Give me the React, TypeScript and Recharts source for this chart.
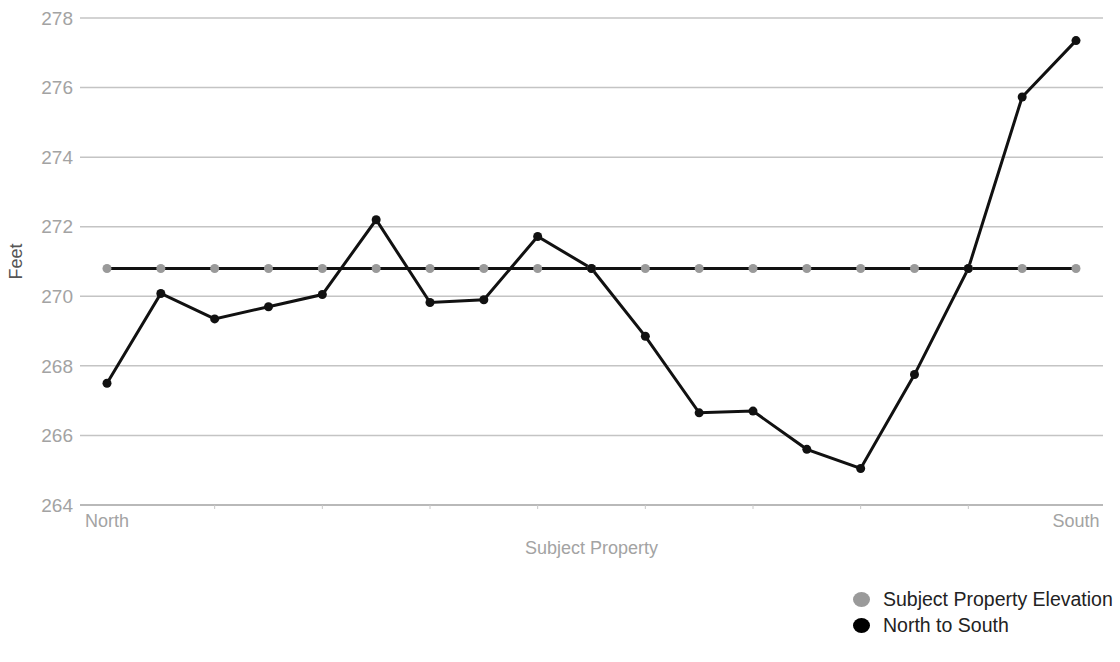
import { CartesianGrid, Line, LineChart, XAxis, YAxis, Label } from 'recharts';

// 19 survey points from north to south
const positions = [
  'North', '', '', '', '', '', '', '', '', '', '', '', '', '', '', '', '', '', 'South',
];
const northToSouth = [
  267.5, 270.08, 269.35, 269.7, 270.05, 272.2, 269.82, 269.9, 271.72, 270.8,
  268.85, 266.65, 266.7, 265.6, 265.05, 267.75, 270.8, 275.73, 277.35,
];
const subjectElevation = [
  270.8, 270.8, 270.8, 270.8, 270.8, 270.8, 270.8, 270.8, 270.8, 270.8,
  270.8, 270.8, 270.8, 270.8, 270.8, 270.8, 270.8, 270.8, 270.8,
];
const yTicks = [264, 266, 268, 270, 272, 274, 276, 278];

const data = positions.map((p, i) => ({
  pos: `${i}`,
  label: p,
  elevation: subjectElevation[i],
  ns: northToSouth[i],
}));

const FONT = '"Liberation Sans", Arial, sans-serif';
const TICK_GRAY = '#a3a3a3';

function XTick(props: any) {
  const { x, y, index } = props;
  const label = positions[index];
  return (
    <g>
      {index % 2 === 0 && index > 0 && index < positions.length - 1 && (
        <line x1={x} x2={x} y1={y} y2={y + 4} stroke="#c8c8c8" strokeWidth={1} />
      )}
      {label && (
        <text x={x} y={y + 22} textAnchor="middle" fill={TICK_GRAY} fontSize={18} fontFamily={FONT}>
          {label}
        </text>
      )}
    </g>
  );
}

export default function App() {
  return (
    <div style={{ position: 'absolute', left: 0, top: 0, width: 1120, height: 662, background: '#fff' }}>
      <LineChart
        width={1120}
        height={662}
        data={data}
        margin={{ top: 18, right: 17, bottom: 0, left: 0 }}
      >
        <CartesianGrid vertical={false} stroke="#c4c4c4" strokeWidth={1.5} />
        <XAxis
          dataKey="pos"
          interval={0}
          tick={<XTick />}
          tickLine={false}
          tickSize={0}
          tickMargin={0}
          stroke="#b0b0b0"
          strokeWidth={1.5}
          height={157}
          padding={{ left: 27, right: 27 }}
        >
          <Label
            value="Subject Property"
            position="insideTop"
            offset={36}
            fill={TICK_GRAY}
            fontSize={18}
            fontFamily={FONT}
          />
        </XAxis>
        <YAxis
          domain={[264, 278]}
          ticks={yTicks}
          width={80}
          axisLine={false}
          tickLine={false}
          tickSize={0}
          tickMargin={7}
          tick={{ fill: TICK_GRAY, fontSize: 19, fontFamily: FONT }}
        >
          <Label
            value="Feet"
            angle={-90}
            position="insideLeft"
            offset={16}
            fill="#555"
            fontSize={18}
            fontFamily={FONT}
            style={{ textAnchor: 'middle' }}
          />
        </YAxis>
        <Line
          dataKey="elevation"
          stroke="#111"
          strokeWidth={3}
          dot={{ r: 4.5, fill: '#9a9a9a', stroke: '#9a9a9a', strokeWidth: 0 }}
          activeDot={false}
          isAnimationActive={false}
        />
        <Line
          dataKey="ns"
          stroke="#111"
          strokeWidth={3}
          dot={{ r: 4.5, fill: '#111', stroke: '#111', strokeWidth: 0 }}
          activeDot={false}
          isAnimationActive={false}
        />
      </LineChart>
      <div
        style={{
          position: 'absolute',
          left: 853,
          top: 586,
          fontFamily: FONT,
          fontSize: 19.5,
          color: '#222',
          lineHeight: '26px',
        }}
      >
        {[
          { name: 'Subject Property Elevation', color: '#9a9a9a' },
          { name: 'North to South', color: '#000' },
        ].map((s) => (
          <div key={s.name} style={{ display: 'flex', alignItems: 'center' }}>
            <span
              style={{
                display: 'inline-block',
                width: 17,
                height: 15,
                borderRadius: '50%',
                background: s.color,
                marginRight: 13,
              }}
            />
            {s.name}
          </div>
        ))}
      </div>
    </div>
  );
}
